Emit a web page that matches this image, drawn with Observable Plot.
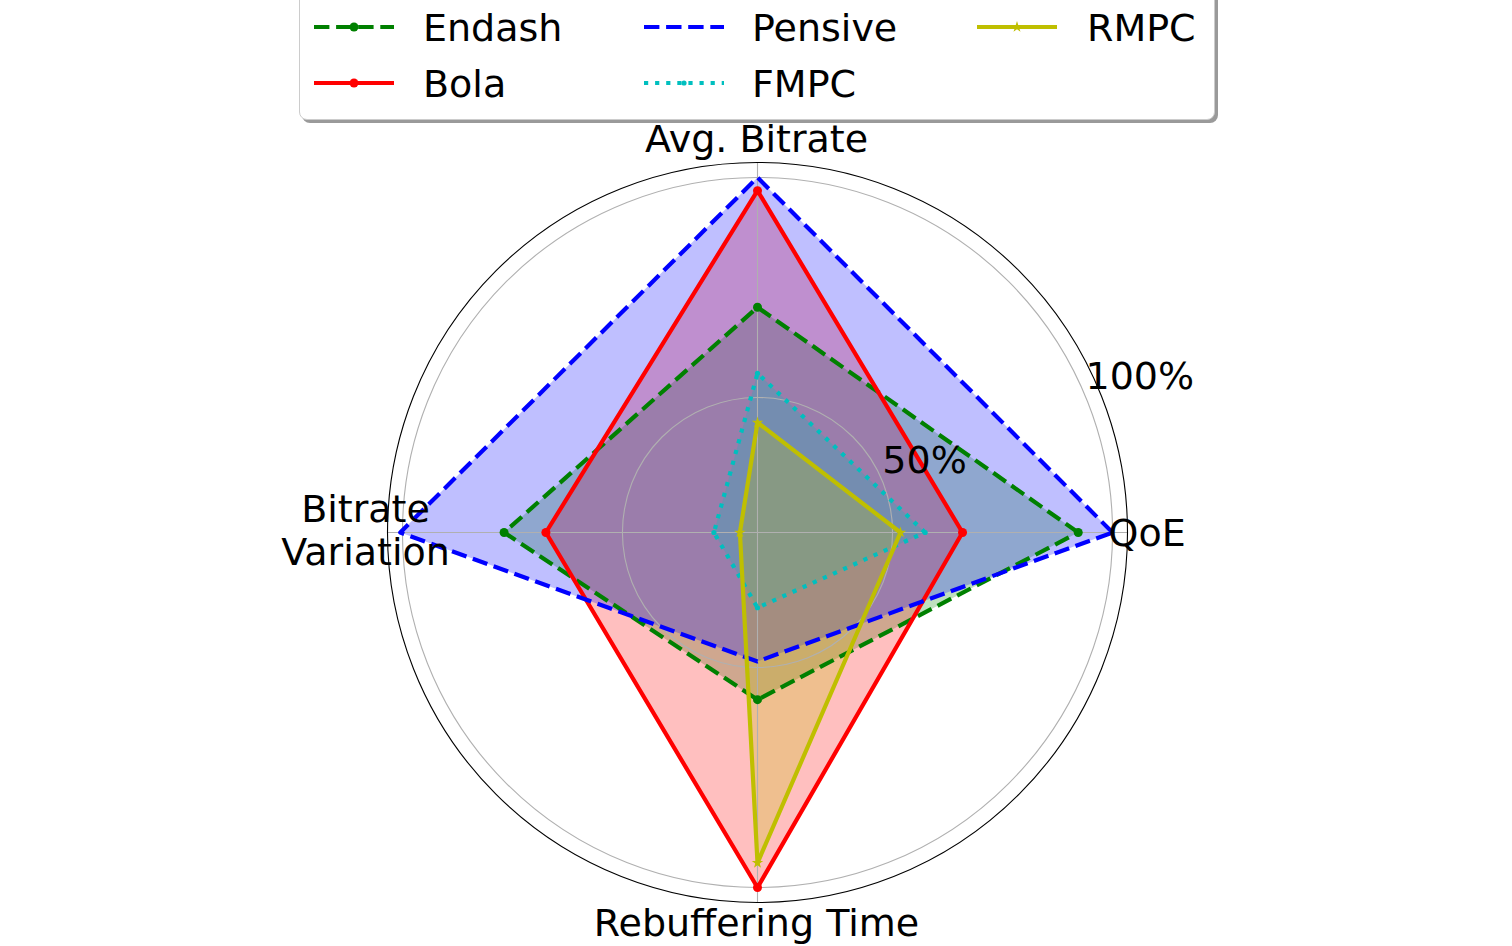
<!DOCTYPE html>
<html>
<head>
<meta charset="utf-8">
<script src="https://cdn.jsdelivr.net/npm/d3@7"></script>
<script src="https://cdn.jsdelivr.net/npm/@observablehq/plot@0.6"></script>
<style>
  html, body { margin: 0; padding: 0; background: #fff; overflow: hidden; }
  #wrap { position: relative; width: 1512px; height: 946px; overflow: hidden; font-family: "DejaVu Sans", sans-serif; }
  #legend { position: relative; width: 1512px; height: 120px; }
  .lbox { position: absolute; left: 299px; top: -30px; width: 916px; height: 150px; box-sizing: border-box;
          border: 1px solid #cccccc; border-radius: 8px; background: #fff; box-shadow: 3px 3px 0 #9a9a9a; }
  .sw { position: absolute; width: 80px; height: 20px; overflow: visible; }
  .lt { position: absolute; font-size: 38px; line-height: 44px; white-space: nowrap; color: #000; }
  #chart svg { display: block; overflow: visible; }
</style>
</head>
<body>
<div id="wrap">
  <div id="legend"><div class="lbox"></div></div>
  <div id="chart"></div>
</div>
<script>
// ---------- data ----------
const axisNames = ["QoE", "Avg. Bitrate", "Bitrate\nVariation", "Rebuffering Time"];
const axisAngles = [0, 90, 180, 270]; // degrees, counter-clockwise from the right
const seriesNames = ["Endash", "Bola", "Pensive", "FMPC", "RMPC"];
const endash  = [92.2, 70.5, 76.9, 57.3];
const bola    = [65.9, 97.0, 67.4, 100.0];
const pensive = [100.0, 100.0, 100.5, 48.6];
const fmpc    = [57.4, 55.5, 29.2, 36.4];
const rmpc    = [51.8, 44.3, 23.3, 94.4];
const radialTicks = [50, 100];
const radialTickLabels = ["50%", "100%"];
const radialMin = 19.3, radialMax = 103.4;

// ---------- styles ----------
const seriesValues = [endash, bola, pensive, fmpc, rmpc];
const colors = ["#008000", "#ff0000", "#0000ff", "#00bfbf", "#bfbf00"];
const dashes = ["15.4,6.7", null, "15.4,6.7", "4.2,6.9", null];
const markers = ["circle", "circle", null, "dot", "star"];

const D = radialMax - radialMin;
const rad = a => a * Math.PI / 180;
const px = (v, a) => (v - radialMin) * Math.cos(rad(a));
const py = (v, a) => (v - radialMin) * Math.sin(rad(a));

const seriesRows = seriesValues.map((vals, s) =>
  vals.map((v, j) => ({series: seriesNames[s], axis: axisNames[j], angle: axisAngles[j], value: v,
                       x: px(v, axisAngles[j]), y: py(v, axisAngles[j])})));
const closed = rows => rows.concat([rows[0]]);

const marks = [];
// fills (all below the grid)
seriesRows.forEach((rows, s) => {
  marks.push(Plot.line(closed(rows), {x: "x", y: "y", fill: colors[s], fillOpacity: 0.25, stroke: "none"}));
});
// grid circles and spokes
marks.push(Plot.dot(radialTicks, {x: () => 0, y: () => 0, r: d => d - radialMin, fill: "none", stroke: "#b0b0b0", strokeWidth: 1.1}));
marks.push(Plot.link(axisAngles, {x1: () => 0, y1: () => 0, x2: a => D * Math.cos(rad(a)), y2: a => D * Math.sin(rad(a)), stroke: "#b0b0b0", strokeWidth: 1.1}));
// lines + markers
seriesRows.forEach((rows, s) => {
  marks.push(Plot.line(closed(rows), {x: "x", y: "y", stroke: colors[s], strokeWidth: 4.2,
    strokeDasharray: dashes[s] || undefined, strokeLinecap: "butt", strokeLinejoin: "round"}));
  if (markers[s] === "circle") marks.push(Plot.dot(rows, {x: "x", y: "y", r: 4.5, fill: colors[s], stroke: "none"}));
  if (markers[s] === "dot") marks.push(Plot.dot(rows, {x: "x", y: "y", r: 2.6, fill: colors[s], stroke: "none"}));
  if (markers[s] === "star") marks.push(Plot.dot(rows, {x: "x", y: "y", r: 3.6, symbol: "star", fill: colors[s], stroke: "none"}));
});
// outer frame
marks.push(Plot.dot([radialMax], {x: () => 0, y: () => 0, r: d => d - radialMin, fill: "none", stroke: "#000", strokeWidth: 1.1}));
// radial tick labels
marks.push(Plot.text(radialTicks, {x: d => px(d, 22.5), y: d => py(d, 22.5), text: (d, i) => radialTickLabels[i],
  textAnchor: "start", lineAnchor: "middle", dx: 0, dy: -20, fill: "#000", fontSize: 38}));
// axis labels
const axisRows = axisNames.map((n, j) => ({name: n, x: D * Math.cos(rad(axisAngles[j])), y: D * Math.sin(rad(axisAngles[j]))}));
const labelOpts = {x: "x", y: "y", text: "name", fill: "#000", fontSize: 38, lineAnchor: "middle", lineHeight: 1.13};
marks.push(Plot.text([axisRows[0]], {...labelOpts, textAnchor: "start", dx: -19, dy: 0}));
marks.push(Plot.text([axisRows[1]], {...labelOpts, textAnchor: "middle", dx: -1, dy: -24}));
marks.push(Plot.text([axisRows[2]], {...labelOpts, textAnchor: "middle", dx: -22, dy: -3}));
marks.push(Plot.text([axisRows[3]], {...labelOpts, textAnchor: "middle", dx: -1, dy: 20}));

const chart = Plot.plot({
  width: 1512, height: 826,
  marginLeft: 387, marginRight: 385, marginTop: 42, marginBottom: 44,
  x: {domain: [-D, D], axis: null},
  y: {domain: [-D, D], axis: null},
  r: {type: "linear", domain: [0, D], range: [0, 370]},
  style: {fontFamily: "DejaVu Sans", fontSize: "38px", overflow: "visible", background: "transparent", color: "#000"},
  marks
});
document.getElementById("chart").appendChild(chart);

// ---------- legend ----------
const legend = document.getElementById("legend");
const handleX = [314, 644, 977];
const textX = [423, 752, 1087];
seriesNames.forEach((name, i) => {
  const col = Math.floor(i / 2), row = i % 2;
  const cy = 27 + row * 56;
  const ns = "http://www.w3.org/2000/svg";
  const svg = document.createElementNS(ns, "svg");
  svg.setAttribute("class", "sw");
  svg.setAttribute("width", 80); svg.setAttribute("height", 20);
  svg.style.left = handleX[col] + "px"; svg.style.top = (cy - 10) + "px";
  const ln = document.createElementNS(ns, "line");
  ln.setAttribute("x1", 0); ln.setAttribute("x2", 80); ln.setAttribute("y1", 10); ln.setAttribute("y2", 10);
  ln.setAttribute("stroke", colors[i]); ln.setAttribute("stroke-width", 4.2);
  if (dashes[i]) ln.setAttribute("stroke-dasharray", dashes[i]);
  svg.appendChild(ln);
  if (markers[i] === "circle" || markers[i] === "dot") {
    const c = document.createElementNS(ns, "circle");
    c.setAttribute("cx", 40); c.setAttribute("cy", 10); c.setAttribute("r", markers[i] === "circle" ? 4.5 : 2.6);
    c.setAttribute("fill", colors[i]); svg.appendChild(c);
  } else if (markers[i] === "star") {
    const p = document.createElementNS(ns, "path");
    p.setAttribute("d", d3.symbol(d3.symbolStar, 40)());
    p.setAttribute("transform", "translate(40,10)");
    p.setAttribute("fill", colors[i]); svg.appendChild(p);
  }
  legend.appendChild(svg);
  const t = document.createElement("div");
  t.className = "lt";
  t.textContent = name;
  t.style.left = textX[col] + "px";
  t.style.top = (41 + row * 56 - 35) + "px";
  legend.appendChild(t);
});
</script>
</body>
</html>
